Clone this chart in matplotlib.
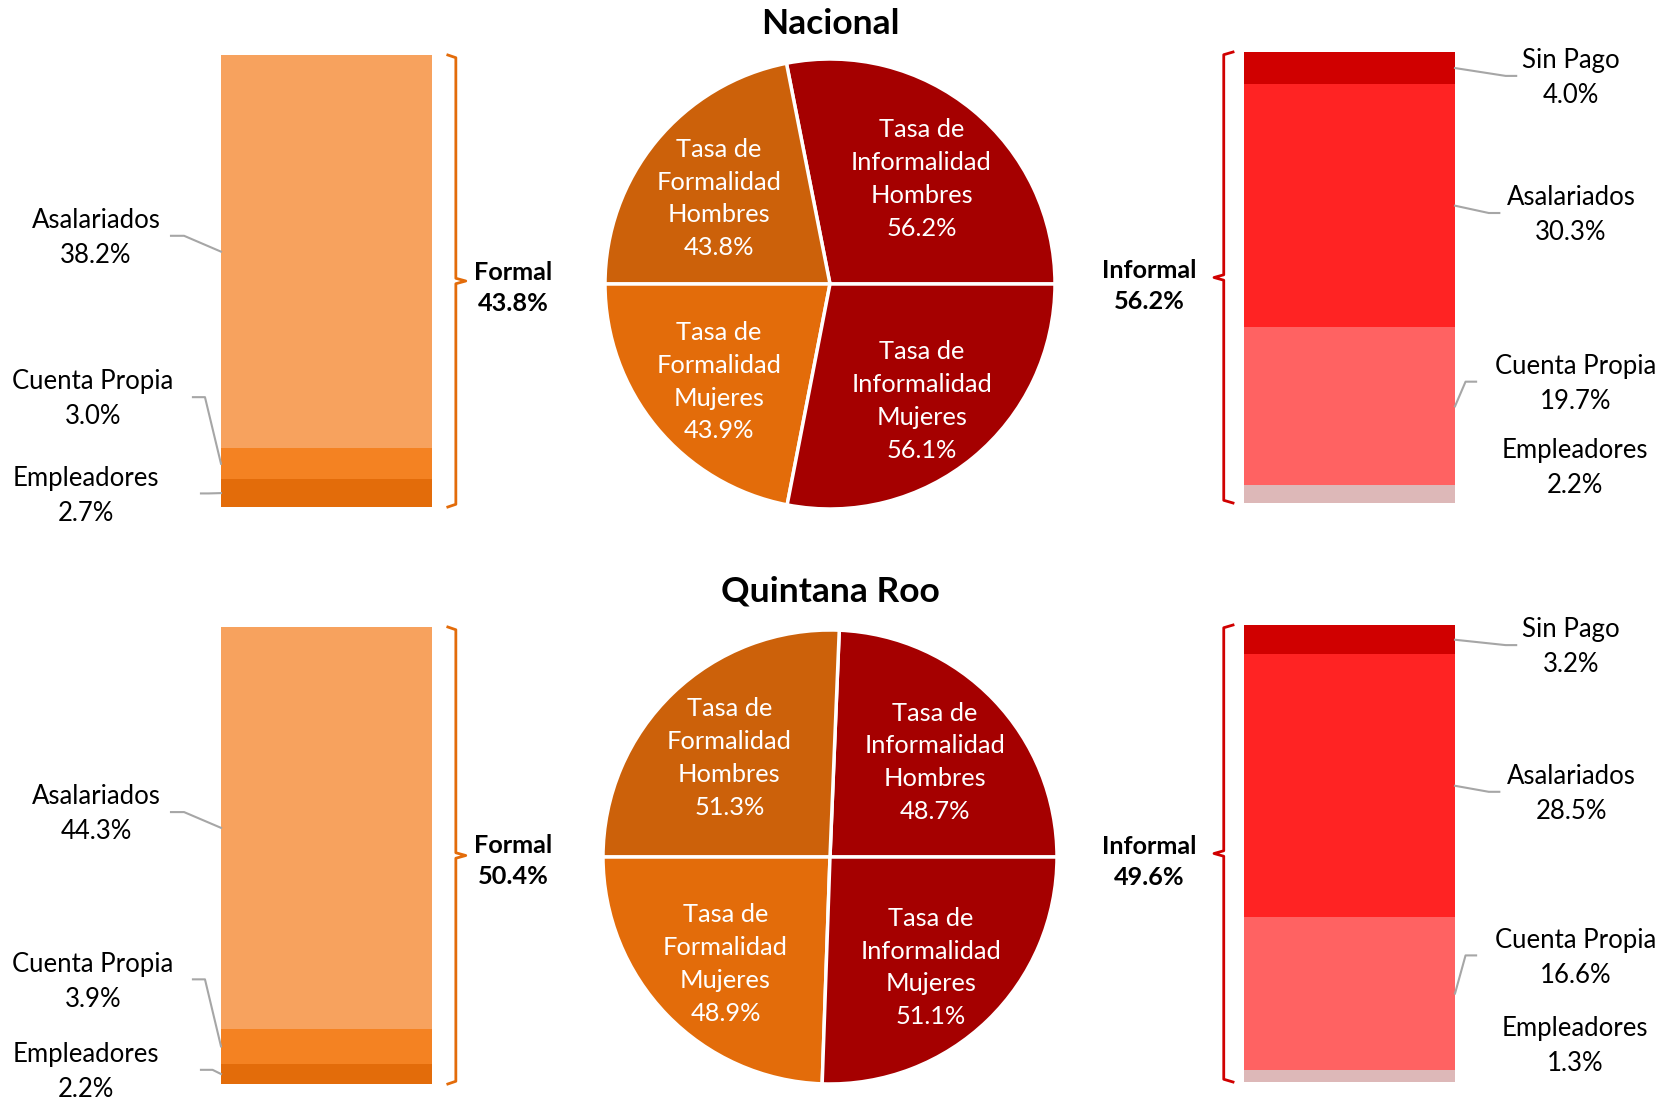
import matplotlib
matplotlib.use("Agg")
import matplotlib.pyplot as plt
import matplotlib.transforms as mtransforms

plt.rcParams['font.family'] = ['Lato', 'DejaVu Sans']

# datos
regiones = ['Nacional', 'Quintana Roo']
formal_total = [43.8, 50.4]
informal_total = [56.2, 49.6]

formal_cats = ['Empleadores', 'Cuenta Propia', 'Asalariados']
formal_vals = [[2.7, 3.0, 38.2], [2.2, 3.9, 44.3]]
formal_colors = ['#E36C0A', '#F48222', '#F7A25E']

informal_cats = ['Empleadores', 'Cuenta Propia', 'Asalariados', 'Sin Pago']
informal_vals = [[2.2, 19.7, 30.3, 4.0], [1.3, 16.6, 28.5, 3.2]]
informal_colors = ['#DDB8B8', '#FF6262', '#FF2323', '#D00000']

pie_names = ['Tasa de\nInformalidad\nHombres', 'Tasa de\nFormalidad\nHombres',
             'Tasa de\nFormalidad\nMujeres', 'Tasa de\nInformalidad\nMujeres']
tasa_inf_h = [56.2, 48.7]
tasa_for_h = [43.8, 51.3]
tasa_for_m = [43.9, 48.9]
tasa_inf_m = [56.1, 51.1]
pie_colors = ['#A50000', '#CC610A', '#E36C0A', '#A50000']

# layout (pixels)
W, H = 1678, 1101
title_y = [24, 591]
bar_l_box = [(221, 55, 432, 507), (221, 627, 432, 1084)]
bar_r_box = [(1244, 52, 1455, 503), (1244, 625, 1455, 1082)]
pie_c = [(830, 284, 225), (830, 857, 227)]

# label layout in bar-axes coords: x, y, elbow x, end x (None = no leader)
left_lab = [
    [(-0.64, 0.025, -0.06, -0.095), (-0.607, 0.238, -0.076, -0.133), (-0.592, 0.595, -0.175, -0.237)],
    [(-0.64, 0.026, -0.04, -0.095), (-0.607, 0.224, -0.076, -0.133), (-0.592, 0.590, -0.175, -0.237)],
]
right_lab = [
    [(1.57, 0.078, None, None), (1.57, 0.264, 1.05, 1.10), (1.55, 0.638, 1.16, 1.21), (1.55, 0.942, 1.24, 1.29)],
    [(1.57, 0.079, None, None), (1.57, 0.272, 1.05, 1.10), (1.55, 0.630, 1.16, 1.21), (1.55, 0.951, 1.24, 1.29)],
]
grp_lab_y = [[0.485, 0.481], [0.488, 0.482]]

fs_lab = 18.5
fs_pie = 18.3
fs_grp = 18.2
fs_title = 25.5
gray = '#A6A6A6'


def px_axes(box):
    x0, y0, x1, y1 = box
    return fig.add_axes([x0 / W, 1 - y1 / H, (x1 - x0) / W, (y1 - y0) / H])


def stacked(ax, vals, colors):
    bottoms = []
    b = 0
    for v, c in zip(vals, colors):
        ax.bar(0, v, bottom=b, width=1, color=c, linewidth=0)
        bottoms.append(b)
        b += v
    ax.set_xlim(-0.5, 0.5)
    ax.set_ylim(0, b)
    ax.axis('off')
    return bottoms, b


def bracket(ax, xl, xh, xt, color):
    d = 0.006
    xs = [xh, xl, xl, xt, xl, xl, xh]
    ys = [1.0, 1.0 - d, 0.5 + d, 0.5, 0.5 - d, d, 0.0]
    ax.plot(xs, ys, color=color, lw=2, transform=ax.transAxes, clip_on=False,
            solid_joinstyle='round')


fig = plt.figure(figsize=(W / 100, H / 100), dpi=100)

for r in range(2):
    fig.text(830 / W, 1 - title_y[r] / H, regiones[r], ha='center', va='center',
             fontsize=fs_title, fontweight='bold')

    # barra formal
    ax = px_axes(bar_l_box[r])
    bots, tot = stacked(ax, formal_vals[r], formal_colors)
    tr = mtransforms.blended_transform_factory(ax.transAxes, ax.transData)
    for i, cat in enumerate(formal_cats):
        lx, ly, ex, nx = left_lab[r][i]
        ax.text(lx, ly, f"{cat}\n{formal_vals[r][i]:.1f}%", transform=ax.transAxes,
                ha='center', va='center', fontsize=fs_lab, multialignment='center',
                linespacing=1.5)
        mid = bots[i] + formal_vals[r][i] / 2
        ly_d = (ly + 0.005) * tot
        ax.plot([0, ex, nx], [mid, ly_d, ly_d], color=gray, lw=1.5, transform=tr, clip_on=False)
    bracket(ax, 1.113, 1.075, 1.16, '#E36C0A')
    ax.text(1.385, grp_lab_y[r][0], f"Formal\n{formal_total[r]:.1f}%", transform=ax.transAxes,
            ha='center', va='center', fontsize=fs_grp, fontweight='bold', multialignment='center',
            linespacing=1.42)

    # barra informal
    ax = px_axes(bar_r_box[r])
    bots, tot = stacked(ax, informal_vals[r], informal_colors)
    tr = mtransforms.blended_transform_factory(ax.transAxes, ax.transData)
    for i, cat in enumerate(informal_cats):
        lx, ly, ex, nx = right_lab[r][i]
        ax.text(lx, ly, f"{cat}\n{informal_vals[r][i]:.1f}%", transform=ax.transAxes,
                ha='center', va='center', fontsize=fs_lab, multialignment='center',
                linespacing=1.5)
        if ex is not None:
            mid = bots[i] + informal_vals[r][i] / 2
            ly_d = (ly + 0.005) * tot
            ax.plot([1, ex, nx], [mid, ly_d, ly_d], color=gray, lw=1.5, transform=tr, clip_on=False)
    bracket(ax, -0.096, -0.052, -0.142, '#D00000')
    ax.text(-0.45, grp_lab_y[r][1], f"Informal\n{informal_total[r]:.1f}%", transform=ax.transAxes,
            ha='center', va='center', fontsize=fs_grp, fontweight='bold', multialignment='center',
            linespacing=1.42)

    # pastel
    cx, cy, rad = pie_c[r]
    m = 1.03
    ax = px_axes((cx - rad * m, cy - rad * m, cx + rad * m, cy + rad * m))
    vals = [tasa_inf_h[r], tasa_for_h[r], tasa_for_m[r], tasa_inf_m[r]]
    labs = [f"{n}\n{v:.1f}%" for n, v in zip(pie_names, vals)]
    wedges, texts = ax.pie(vals, colors=pie_colors, startangle=0, counterclock=True,
                           labels=labs, labeldistance=0.64,
                           wedgeprops=dict(edgecolor='white', linewidth=2.5),
                           textprops=dict(color='white', fontsize=fs_pie, linespacing=1.52))
    shift = mtransforms.ScaledTranslation(0, -0.06, fig.dpi_scale_trans)
    for t in texts:
        t.set_ha('center')
        t.set_va('center')
        t.set_multialignment('center')
        t.set_transform(ax.transData + shift)
    ax.set_xlim(-m, m)
    ax.set_ylim(-m, m)

fig.savefig('out.png', dpi=100)
